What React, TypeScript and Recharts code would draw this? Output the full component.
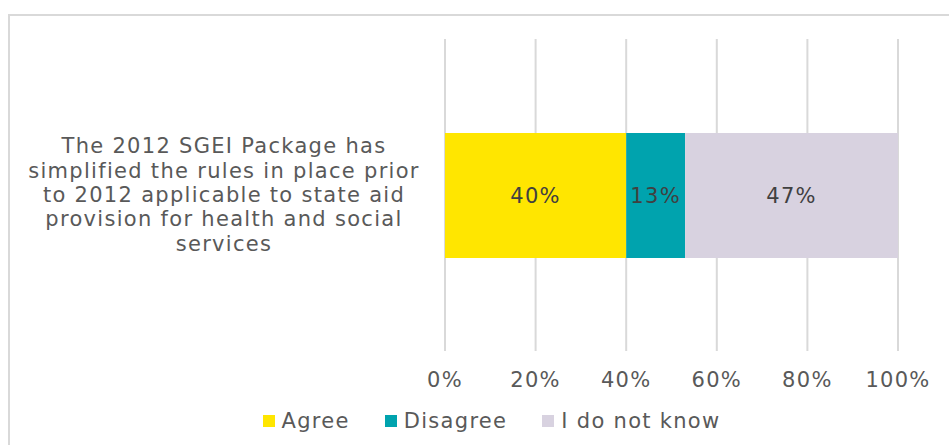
import React from 'react';
import { BarChart, Bar, XAxis, YAxis, CartesianGrid, Legend, LabelList } from 'recharts';

const categories = ['The 2012 SGEI Package has simplified the rules in place prior to 2012 applicable to state aid provision for health and social services'];
const categoryLines = [
  'The 2012 SGEI Package has',
  'simplified the rules in place prior',
  'to 2012 applicable to state aid',
  'provision for health and social',
  'services',
];
const agree = [0.4];
const disagree = [0.13];
const dontKnow = [0.47];
const xTicks = [0, 0.2, 0.4, 0.6, 0.8, 1];
const seriesNames = ['Agree', 'Disagree', 'I do not know'];
const seriesColors = ['#FFE600', '#00A3AE', '#D8D2E0'];

const data = categories.map((c, i) => ({
  name: c,
  agree: agree[i],
  disagree: disagree[i],
  dontKnow: dontKnow[i],
}));

const FONT = '"DejaVu Sans", Verdana, sans-serif';
const FS = 21;
const LS = 1.3;
const TEXT = '#595959';

const pct = (v: number) => `${Math.round(v * 100)}%`;

const YTick = (props: any) => {
  const { y } = props;
  const cx = 224;
  const step = 24.3;
  const n = categoryLines.length;
  return (
    <text
      x={cx}
      y={y}
      textAnchor="middle"
      fill={TEXT}
      fontFamily={FONT}
      fontSize={FS}
      style={{ letterSpacing: LS }}
    >
      {categoryLines.map((l, i) => (
        <tspan key={i} x={cx} y={y + (i - (n - 1) / 2) * step} dominantBaseline="central">
          {l}
        </tspan>
      ))}
    </text>
  );
};

const XTick = (props: any) => {
  const { x, y, payload } = props;
  return (
    <text
      x={x}
      y={y + 7}
      textAnchor="middle"
      dominantBaseline="central"
      fill={TEXT}
      fontFamily={FONT}
      fontSize={FS}
      style={{ letterSpacing: LS }}
    >
      {pct(payload.value)}
    </text>
  );
};

const renderLabel = (props: any) => {
  const vb = props.viewBox || props;
  const x = vb.x, y = vb.y, w = vb.width, h = vb.height;
  return (
    <text
      x={x + w / 2}
      y={y + h / 2}
      textAnchor="middle"
      dominantBaseline="central"
      fill="#404040"
      fontFamily={FONT}
      fontSize={FS}
      style={{ letterSpacing: LS }}
    >
      {pct(props.value)}
    </text>
  );
};

const LegendContent = () => (
  <div
    style={{
      display: 'flex',
      justifyContent: 'center',
      alignItems: 'center',
      height: 26,
      fontFamily: FONT,
      fontSize: FS,
      letterSpacing: LS,
      color: TEXT,
    }}
  >
    {seriesNames.map((n, i) => (
      <div key={n} style={{ display: 'flex', alignItems: 'center', marginRight: i < seriesNames.length - 1 ? 35 : 0 }}>
        <span style={{ display: 'inline-block', width: 12, height: 12, background: seriesColors[i], marginRight: 7 }} />
        <span style={{ lineHeight: '26px' }}>{n}</span>
      </div>
    ))}
  </div>
);

export default function App() {
  return (
    <div style={{ position: 'absolute', left: 0, top: 0, width: 949, height: 445, overflow: 'hidden', background: '#fff' }}>
      <div
        style={{
          position: 'absolute',
          left: 8,
          top: 14,
          width: 1000,
          height: 500,
          border: '2px solid #D9D9D9',
          boxSizing: 'border-box',
        }}
      />
      <div style={{ position: 'absolute', left: 0, top: 0 }}>
        <BarChart
          width={949}
          height={445}
          data={data}
          layout="vertical"
          margin={{ top: 39, right: 51, left: 0, bottom: 0 }}
          barCategoryGap={0}
        >
          <CartesianGrid horizontal={false} vertical={true} stroke="#D9D9D9" strokeWidth={2} />
          <XAxis
            type="number"
            domain={[0, 1]}
            ticks={xTicks}
            axisLine={false}
            tickLine={false}
            tickSize={0}
            tickMargin={22}
            height={94}
            tick={<XTick />}
            interval={0}
          />
          <YAxis
            type="category"
            dataKey="name"
            width={445}
            axisLine={false}
            tickLine={false}
            tick={<YTick />}
          />
          <Legend
            layout="horizontal"
            verticalAlign="middle"
            align="center"
            wrapperStyle={{ top: 408, left: 0, width: 983, height: 26 }}
            content={<LegendContent />}
          />
          <Bar dataKey="agree" name={seriesNames[0]} stackId="a" fill={seriesColors[0]} barSize={125} isAnimationActive={false}>
            <LabelList dataKey="agree" content={renderLabel} />
          </Bar>
          <Bar dataKey="disagree" name={seriesNames[1]} stackId="a" fill={seriesColors[1]} barSize={125} isAnimationActive={false}>
            <LabelList dataKey="disagree" content={renderLabel} />
          </Bar>
          <Bar dataKey="dontKnow" name={seriesNames[2]} stackId="a" fill={seriesColors[2]} barSize={125} isAnimationActive={false}>
            <LabelList dataKey="dontKnow" content={renderLabel} />
          </Bar>
        </BarChart>
      </div>
    </div>
  );
}
